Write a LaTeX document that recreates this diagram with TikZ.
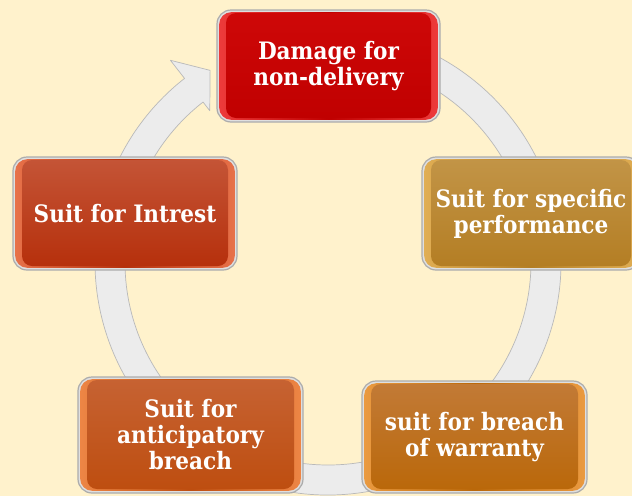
\documentclass[tikz,border=0pt]{standalone}
\usepackage{fontspec}
\setmainfont{DejaVu Serif Condensed}
\definecolor{bg}{RGB}{255,242,204}
\definecolor{ringfill}{RGB}{236,236,236}
\definecolor{ringedge}{RGB}{185,185,185}
\definecolor{rTop}{RGB}{206,8,8}\definecolor{rBot}{RGB}{192,0,0}\definecolor{rHi}{RGB}{238,60,60}
\definecolor{gTop}{RGB}{194,148,70}\definecolor{gBot}{RGB}{180,126,36}\definecolor{gHi}{RGB}{225,175,85}
\definecolor{lTop}{RGB}{196,84,54}\definecolor{lBot}{RGB}{182,48,12}\definecolor{lHi}{RGB}{232,115,75}
\definecolor{blTop}{RGB}{198,98,50}\definecolor{blBot}{RGB}{190,78,16}\definecolor{blHi}{RGB}{238,135,70}
\definecolor{brTop}{RGB}{194,122,54}\definecolor{brBot}{RGB}{186,104,10}\definecolor{brHi}{RGB}{235,155,65}
\tikzset{
  gbox/.style n args={5}{rectangle, rounded corners=14pt, draw=gray!65, line width=1.2pt,
    fill=gray!25, text=white, align=center, inner sep=0pt, outer sep=0pt,
    minimum width=#4, minimum height=#5,
    path picture={
      \shade[rounded corners=12pt, left color=#3, right color=#3, middle color=#2]
        ([shift={(2.2pt,-2.2pt)}]path picture bounding box.north west) rectangle
        ([shift={(-2.2pt,2.2pt)}]path picture bounding box.south east);
      \shade[rounded corners=10pt, top color=#1, bottom color=#2]
        ([shift={(9pt,-3pt)}]path picture bounding box.north west) rectangle
        ([shift={(-9pt,4pt)}]path picture bounding box.south east);
    }},
  ring/.style={fill=ringfill, draw=ringedge, line width=0.7pt, line join=round}
}
\begin{document}
\begin{tikzpicture}[x=1pt,y=-1pt,font=\bfseries\fontsize{24}{26}\selectfont]
\useasboundingbox (0,0) rectangle (632,496);
\fill[bg] (0,0) rectangle (632,496);
\begin{scope}[shift={(328,262)}, yscale=-1]
  \path[ring] (100:233) arc[start angle=100,end angle=-232,radius=233]
    -- (-232:256) -- (-238.4:225) -- (-232:192) -- (-232:203)
    arc[start angle=-232,end angle=100,radius=203] -- cycle;
\end{scope}
\node[gbox={rTop}{rBot}{rHi}{223pt}{112pt}] (top) at (328.5,66) {Damage for\\non-delivery};
\node[gbox={gTop}{gBot}{gHi}{218pt}{113pt}] (right) at (531,213.5) {Suit for specific\\performance};
\node[gbox={lTop}{lBot}{lHi}{224pt}{113pt}] (left) at (125,213.5) {Suit for Intrest};
\node[gbox={blTop}{blBot}{blHi}{225pt}{116pt}] (bl) at (190.5,435) {Suit for\\anticipatory\\breach};
\node[gbox={brTop}{brBot}{brHi}{225pt}{112pt}] (br) at (474.5,437) {suit for breach\\of warranty};
\end{tikzpicture}
\end{document}
